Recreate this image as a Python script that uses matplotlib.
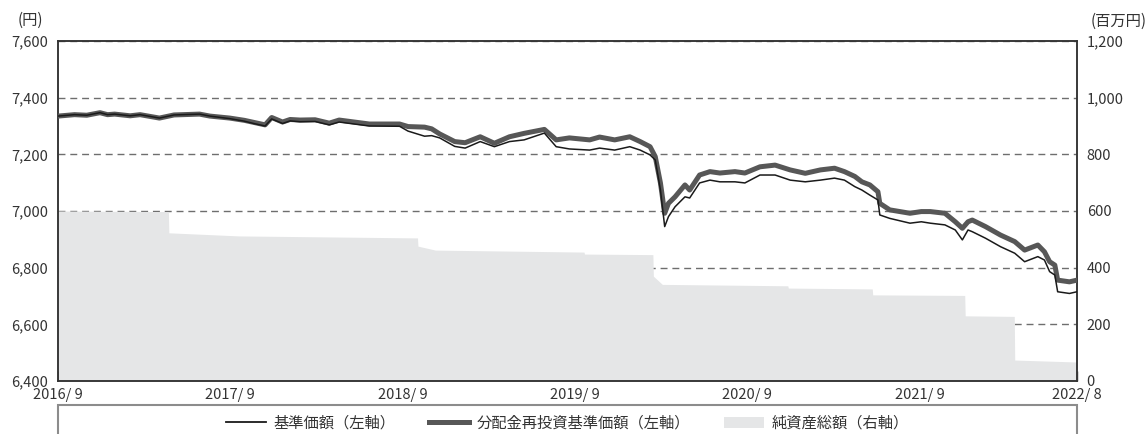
import matplotlib
matplotlib.use("Agg")
import matplotlib.pyplot as plt
import numpy as np
import pandas as pd
from matplotlib.patches import Patch, Rectangle
from matplotlib.lines import Line2D
from matplotlib.ticker import FuncFormatter

plt.rcParams['font.family'] = ['Noto Sans CJK JP', 'DejaVu Sans']

# price data (left axis, yen)
price_dates = [
    "2016-09-01", "2016-10-06", "2016-11-01", "2016-11-29", "2016-12-15", "2016-12-30",
    "2017-02-01", "2017-02-22", "2017-04-04", "2017-05-05", "2017-06-28", "2017-07-20",
    "2017-08-31", "2017-10-01", "2017-10-23", "2017-11-14", "2017-11-28", "2017-12-21",
    "2018-01-06", "2018-01-27", "2018-02-28", "2018-03-30", "2018-04-20", "2018-06-23",
    "2018-08-26", "2018-09-13", "2018-10-18", "2018-11-02", "2018-11-19", "2018-12-21",
    "2019-01-12", "2019-02-13", "2019-03-15", "2019-04-16", "2019-05-17", "2019-06-29",
    "2019-07-24", "2019-08-21", "2019-10-03", "2019-10-24", "2019-11-25", "2019-12-27",
    "2020-01-18", "2020-02-08", "2020-02-19", "2020-03-01", "2020-03-10", "2020-03-18",
    "2020-04-01", "2020-04-22", "2020-05-02", "2020-05-23", "2020-06-14", "2020-07-05",
    "2020-08-06", "2020-08-27", "2020-09-28", "2020-10-30", "2020-12-01", "2021-01-02",
    "2021-02-03", "2021-03-05", "2021-03-26", "2021-04-17", "2021-05-02", "2021-05-19",
    "2021-06-05", "2021-06-09", "2021-06-30", "2021-08-12", "2021-09-05", "2021-09-24",
    "2021-10-25", "2021-11-16", "2021-12-01", "2021-12-13", "2021-12-22", "2022-01-19",
    "2022-02-20", "2022-03-22", "2022-04-12", "2022-05-10", "2022-05-24", "2022-06-04",
    "2022-06-15", "2022-06-21", "2022-07-16", "2022-08-01",
]
reinvest_nav = [
    7335, 7340, 7338, 7347, 7340, 7342,
    7336, 7340, 7328, 7339, 7342, 7335,
    7328, 7320, 7312, 7304, 7330, 7314,
    7323, 7321, 7322, 7310, 7321, 7307,
    7307, 7298, 7296, 7290, 7272, 7245,
    7241, 7262, 7239, 7262, 7274, 7288,
    7251, 7258, 7251, 7261, 7251, 7262,
    7245, 7227, 7192, 7099, 6992, 7027,
    7050, 7092, 7074, 7127, 7139, 7134,
    7139, 7134, 7156, 7162, 7145, 7133,
    7145, 7151, 7139, 7122, 7103, 7092,
    7068, 7027, 7004, 6992, 6998, 6998,
    6992, 6962, 6939, 6962, 6968, 6945,
    6915, 6892, 6862, 6880, 6856, 6821,
    6809, 6756, 6750, 6756,
]
nav = [
    7335, 7340, 7338, 7347, 7340, 7342,
    7336, 7340, 7328, 7339, 7342, 7335,
    7326, 7317, 7308, 7300, 7325, 7309,
    7318, 7315, 7316, 7304, 7314, 7300,
    7299, 7282, 7264, 7266, 7258, 7228,
    7222, 7245, 7227, 7245, 7251, 7275,
    7227, 7219, 7215, 7222, 7215, 7227,
    7215, 7198, 7180, 7074, 6945, 6980,
    7015, 7050, 7046, 7099, 7109, 7103,
    7103, 7099, 7127, 7127, 7109, 7103,
    7109, 7116, 7109, 7086, 7074, 7056,
    7039, 6986, 6974, 6957, 6962, 6957,
    6951, 6933, 6898, 6933, 6927, 6904,
    6874, 6851, 6821, 6839, 6827, 6786,
    6774, 6715, 6709, 6715,
]

# net assets (right axis, million yen)
asset_dates = [
    "2016-09-01", "2017-04-23", "2017-04-24", "2017-09-20", "2018-10-03", "2018-10-04",
    "2018-11-10", "2019-09-21", "2019-09-22", "2020-02-14", "2020-02-15", "2020-03-05",
    "2020-11-26", "2020-11-27", "2021-05-24", "2021-05-25", "2021-12-06", "2021-12-07",
    "2022-03-21", "2022-03-22", "2022-08-01",
]
net_assets = [
    600, 598, 523, 512, 505, 476,
    462, 455, 448, 446, 370, 341,
    336, 328, 325, 304, 302, 230,
    228, 74, 67,
]

xtick_dates = ["2016-09-01", "2017-09-01", "2018-09-01", "2019-09-01",
               "2020-09-01", "2021-09-01", "2022-08-01"]
xtick_labels = ["2016/ 9", "2017/ 9", "2018/ 9", "2019/ 9", "2020/ 9", "2021/ 9", "2022/ 8"]

px = pd.to_datetime(price_dates)
ax_d = pd.to_datetime(asset_dates)
xt = pd.to_datetime(xtick_dates)

fig = plt.figure(figsize=(11.48, 4.34), dpi=100)
ax2 = fig.add_axes([58/1148, 1-381/434, (1077-58)/1148, 340/434])
ax = ax2.twinx()

# right axis: net assets area (behind), with the dashed grid
ax2.fill_between(ax_d, net_assets, 0, color="#e5e6e7", lw=0, zorder=2)
ax2.set_ylim(0, 1200)
ax2.set_yticks(np.arange(0, 1201, 200))
ax2.grid(axis="y", color="#6e6e6e", linestyle=(0, (5, 3.5)), lw=1.0)
ax2.set_axisbelow(True)
ax2.yaxis.tick_right()
ax2.yaxis.set_major_formatter(FuncFormatter(lambda v, p: f"{int(v):,}"))
ax2.tick_params(axis="y", length=0, pad=7, labelsize=10.5, colors="#333333")

# left axis: prices
ax.plot(px, reinvest_nav, color="#575757", lw=3.6, solid_joinstyle="round", zorder=3)
ax.plot(px, nav, color="#1a1a1a", lw=1.1, zorder=4)
ax.set_ylim(6400, 7600)
ax.set_yticks(np.arange(6400, 7601, 200))
ax.yaxis.tick_left()
ax.yaxis.set_major_formatter(FuncFormatter(lambda v, p: f"{int(v):,}"))
ax.tick_params(axis="y", length=0, pad=7, labelsize=10.5, colors="#333333")
ax.set_zorder(ax2.get_zorder() + 1)
ax.patch.set_visible(False)

ax2.set_xlim(xt[0], xt[-1])
ax2.set_xticks(xt)
ax2.set_xticklabels(xtick_labels)
ax2.tick_params(axis="x", direction="in", length=7, width=1, pad=5, labelsize=10.5,
                colors="#333333")

for a in (ax, ax2):
    for s in a.spines.values():
        s.set_color("#333333")
        s.set_linewidth(1.1)

fig.text(18/1148, 1-20/434, "(円)", fontsize=11, color="#333333", va="center", ha="left")
fig.text(1147/1148, 1-21/434, "(百万円)", fontsize=11, color="#333333", va="center", ha="right")

# legend box, open at the bottom edge of the image
fig.patches.append(Rectangle((58/1148, -0.2), (1077-58)/1148, 0.2 + 1-405/434,
                             transform=fig.transFigure, fill=False,
                             edgecolor="#8c8c8c", lw=1.5))
handles = [
    Line2D([], [], color="#1a1a1a", lw=1.3),
    Line2D([], [], color="#575757", lw=3.6),
    Patch(facecolor="#e5e6e7", edgecolor="none"),
]
labels = ["基準価額（左軸）", "分配金再投資基準価額（左軸）", "純資産総額（右軸）"]
fig.legend(handles, labels, loc="center", bbox_to_anchor=((58+1077)/2/1148, 1-423/434),
           ncol=3, frameon=False, fontsize=11, handlelength=2.6, columnspacing=2.2,
           handletextpad=0.5, labelcolor="#333333", borderpad=0)

fig.savefig("out.png", dpi=100)
